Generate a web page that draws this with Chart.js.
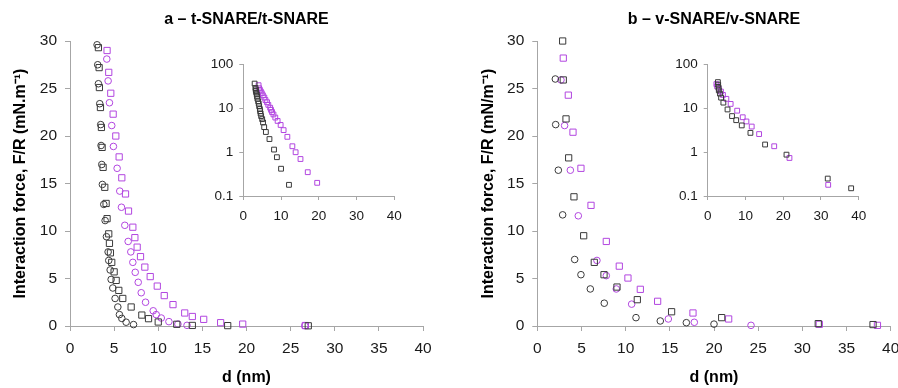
<!DOCTYPE html>
<html>
<head>
<meta charset="utf-8">
<script src="https://cdn.jsdelivr.net/npm/chart.js@4.4.1/dist/chart.umd.min.js"></script>
<style>
  html, body { margin: 0; padding: 0; background: #fff; width: 898px; height: 388px; overflow: hidden; }
  .box { position: absolute; }
</style>
</head>
<body>
<div class="box" style="left:0px;top:0px;width:449px;height:388px;"><canvas id="mainA" width="449" height="388"></canvas></div>
<div class="box" style="left:449px;top:0px;width:460px;height:388px;"><canvas id="mainB" width="460" height="388"></canvas></div>
<div class="box" style="left:200px;top:50px;width:220px;height:180px;"><canvas id="insetA" width="220" height="180"></canvas></div>
<div class="box" style="left:660px;top:50px;width:220px;height:180px;"><canvas id="insetB" width="220" height="180"></canvas></div>
<script>
// ---------- Data ----------
// Panel a – t-SNARE/t-SNARE
const aBlackCircX = [3.07,3.14,3.22,3.37,3.48,3.52,3.6,3.67,3.83,3.98,4.13,4.32,4.39,4.55,4.66,4.85,5.11,5.42,5.6,5.87,6.36,7.2];
const aBlackCircY = [29.6,27.5,25.5,23.4,21.2,19.0,17.0,14.9,12.8,11.1,9.4,7.8,6.9,5.9,4.9,4.0,2.9,2.0,1.2,0.8,0.4,0.15];
const aBlackSqX = [3.0,3.22,3.3,3.33,3.45,3.56,3.64,3.75,3.94,4.09,4.2,4.39,4.47,4.58,4.73,5.0,5.23,5.53,5.98,6.93,8.14,8.9,10.0,12.1,13.86,17.87,27.0];
const aBlackSqY = [37,29.3,27.2,25.1,23.0,20.9,18.8,16.7,14.6,12.9,11.3,9.7,8.7,7.7,6.7,5.7,4.8,3.75,2.9,2.0,1.15,0.77,0.42,0.18,0.06,0.04,0.02];
const aPurpCircX = [4.17,4.32,4.47,4.73,4.92,5.34,5.64,5.83,6.21,6.59,6.89,7.12,7.39,7.73,8.07,8.56,9.43,9.77,10.34,11.21,12.23,13.26,26.6];
const aPurpCircY = [28.1,25.8,23.5,21.1,18.9,16.6,14.2,12.5,10.6,8.9,7.8,6.7,5.65,4.6,3.5,2.5,1.6,1.2,0.84,0.46,0.2,0.07,0.03];
const aPurpSqX = [4.05,4.2,4.39,4.62,4.89,5.19,5.57,5.87,6.29,6.63,7.12,7.35,7.61,7.99,8.48,9.09,9.89,10.68,11.67,13.0,13.86,15.15,17.07,19.57,26.67];
const aPurpSqY = [34,29.0,26.7,24.5,22.3,20.0,17.8,15.6,13.9,12.1,10.4,9.3,8.3,7.3,6.2,5.2,4.2,3.2,2.25,1.37,1.0,0.7,0.35,0.2,0.05];

// Panel b – v-SNARE/v-SNARE
const bBlackCircX = [2.04,2.08,2.38,2.87,4.23,4.94,6.0,7.58,11.17,13.92,16.87,20.0];
const bBlackCircY = [26.0,21.2,16.4,11.7,7.0,5.4,3.9,2.4,0.88,0.53,0.35,0.2];
const bBlackSqX = [2.7,2.78,2.87,2.94,3.25,3.55,4.15,5.25,6.45,7.55,9.02,11.32,15.2,20.87,31.8,38.0];
const bBlackSqY = [40,35,30.0,25.9,21.8,17.7,13.6,9.5,6.7,5.4,4.1,2.77,1.5,0.88,0.25,0.15];
const bPurpCircX = [2.68,3.09,3.74,4.64,6.75,7.81,8.94,10.68,14.83,17.77,24.19];
const bPurpCircY = [25.9,21.1,16.4,11.6,6.9,5.3,3.9,2.3,0.74,0.39,0.07];
const bPurpSqX = [2.3,2.5,2.94,3.51,4.04,4.94,6.08,7.81,9.28,10.26,11.66,13.62,17.62,21.66,31.92,38.5];
const bPurpSqY = [36,32,28.2,24.3,20.4,16.6,12.7,8.9,6.3,5.05,3.86,2.6,1.37,0.74,0.18,0.07];

// Tick labels
const mainXTicks = [0,5,10,15,20,25,30,35,40];
const mainYTicks = [0,5,10,15,20,25,30];
const insetXTicks = [0,10,20,30,40];
const insetYTicks = [0.1,1,10,100];

const titleA = 'a \u2013 t-SNARE/t-SNARE';
const titleB = 'b \u2013 v-SNARE/v-SNARE';
const yTitleA = 'Interaction force, F/R (mN.m\u207B\u00B9)';
const yTitleB = 'Interaction force, F/R (mN/m\u207B\u00B9)';
const xTitle = 'd (nm)';

// ---------- Styling ----------
const FONT = "'Liberation Sans', Arial, sans-serif";
const BLACK = '#3a3a3a';
const PURPLE = '#b246e0';
const AXIS = '#a6a6a6';
const TEXT = '#1a1a1a';

Chart.defaults.font.family = FONT;
Chart.defaults.color = TEXT;

function pts(xs, ys, filterLog) {
  const out = xs.map((x, i) => ({ x: x, y: ys[i] }));
  return filterLog ? out.filter(p => p.y >= 0.1) : out;
}

function ds(xs, ys, style, color, radius, filterLog, clip) {
  return {
    data: pts(xs, ys, filterLog),
    pointStyle: style,
    pointRadius: radius,
    pointHoverRadius: radius,
    pointBorderWidth: 1,
    borderColor: color,
    pointBorderColor: color,
    backgroundColor: 'rgba(0,0,0,0)',
    pointBackgroundColor: 'rgba(0,0,0,0)',
    showLine: false,
    clip: clip
  };
}

function fixedTicks(values) {
  return function (scale) { scale.ticks = values.map(v => ({ value: v })); };
}

function mainChart(id, title, yTitle, datasets, yWidth, padRight, yTitlePad) {
  return new Chart(document.getElementById(id), {
    type: 'scatter',
    data: { datasets: datasets },
    options: {
      responsive: false,
      animation: false,
      events: [],
      devicePixelRatio: 1,
      layout: { padding: { left: 0, right: padRight, top: 0, bottom: 0 } },
      plugins: {
        legend: { display: false },
        tooltip: { enabled: false },
        title: {
          display: true,
          text: title,
          fullSize: false,
          color: '#000',
          font: { size: 16, weight: 'bold', family: FONT, lineHeight: 1.2 },
          padding: { top: 10.4, bottom: 11.4 }
        }
      },
      scales: {
        x: {
          type: 'linear',
          min: 0, max: 40,
          afterBuildTicks: fixedTicks(mainXTicks),
          afterFit: s => { s.height = 62; },
          border: { display: true, color: AXIS, width: 1 },
          grid: { display: true, drawOnChartArea: false, drawTicks: true, tickLength: 5, color: AXIS },
          ticks: { font: { size: 15.5, family: FONT }, color: TEXT, padding: 8, maxRotation: 0, autoSkip: false },
          title: { display: true, text: xTitle, color: '#000', font: { size: 16, weight: 'bold', family: FONT, lineHeight: 1.2 }, padding: { top: 0, bottom: 1 } }
        },
        y: {
          type: 'linear',
          min: 0, max: 30,
          afterBuildTicks: fixedTicks(mainYTicks),
          afterFit: s => { s.width = yWidth; },
          border: { display: true, color: AXIS, width: 1 },
          grid: { display: true, drawOnChartArea: false, drawTicks: true, tickLength: 5, color: AXIS },
          ticks: { font: { size: 15.5, family: FONT }, color: TEXT, padding: 8, autoSkip: false },
          title: { display: true, text: yTitle, color: '#000', font: { size: 16, weight: 'bold', family: FONT, lineHeight: 1.2 }, padding: { top: yTitlePad, bottom: 0 } }
        }
      }
    }
  });
}

function insetChart(id, datasets, yWidth, padRight) {
  return new Chart(document.getElementById(id), {
    type: 'scatter',
    data: { datasets: datasets },
    options: {
      responsive: false,
      animation: false,
      events: [],
      devicePixelRatio: 1,
      layout: { padding: { left: 0, right: padRight, top: 14.7, bottom: 0 } },
      plugins: { legend: { display: false }, tooltip: { enabled: false }, title: { display: false } },
      scales: {
        x: {
          type: 'linear',
          min: 0, max: 40,
          afterBuildTicks: fixedTicks(insetXTicks),
          afterFit: s => { s.height = 34; },
          border: { display: true, color: AXIS, width: 1 },
          grid: { display: true, drawOnChartArea: false, drawTicks: true, tickLength: 4, color: AXIS },
          ticks: { font: { size: 13.5, family: FONT }, color: TEXT, padding: 8, maxRotation: 0, autoSkip: false }
        },
        y: {
          type: 'logarithmic',
          min: 0.1, max: 100,
          afterBuildTicks: fixedTicks(insetYTicks),
          afterFit: s => { s.width = yWidth; },
          border: { display: true, color: AXIS, width: 1 },
          grid: { display: true, drawOnChartArea: false, drawTicks: true, tickLength: 4, color: AXIS },
          ticks: { font: { size: 13.5, family: FONT }, color: TEXT, padding: 6, autoSkip: false, callback: v => String(v) }
        }
      }
    }
  });
}

const mainClip = { left: 10, right: 10, top: 5, bottom: 10 };
const insetClip = { left: 10, right: 10, top: 10, bottom: 10 };

mainChart('mainA', titleA, yTitleA, [
  ds(aBlackCircX, aBlackCircY, 'circle', BLACK, 3.3, false, mainClip),
  ds(aBlackSqX, aBlackSqY, 'rect', BLACK, 4.4, false, mainClip),
  ds(aPurpCircX, aPurpCircY, 'circle', PURPLE, 3.3, false, mainClip),
  ds(aPurpSqX, aPurpSqY, 'rect', PURPLE, 4.4, false, mainClip)
], 70, 26, 10.9);

mainChart('mainB', titleB, yTitleB, [
  ds(bBlackCircX, bBlackCircY, 'circle', BLACK, 3.3, false, mainClip),
  ds(bBlackSqX, bBlackSqY, 'rect', BLACK, 4.4, false, mainClip),
  ds(bPurpCircX, bPurpCircY, 'circle', PURPLE, 3.3, false, mainClip),
  ds(bPurpSqX, bPurpSqY, 'rect', PURPLE, 4.4, false, mainClip)
], 88.3, 18.3, 29.7);

insetChart('insetA', [
  ds(aBlackSqX, aBlackSqY, 'rect', BLACK, 3.4, true, insetClip),
  ds(aPurpSqX, aPurpSqY, 'rect', PURPLE, 3.4, true, insetClip)
], 43.3, 25.7);

insetChart('insetB', [
  ds(bBlackSqX, bBlackSqY, 'rect', BLACK, 3.4, true, insetClip),
  ds(bPurpSqX, bPurpSqY, 'rect', PURPLE, 3.4, true, insetClip)
], 47.7, 21.3);
</script>
</body>
</html>
